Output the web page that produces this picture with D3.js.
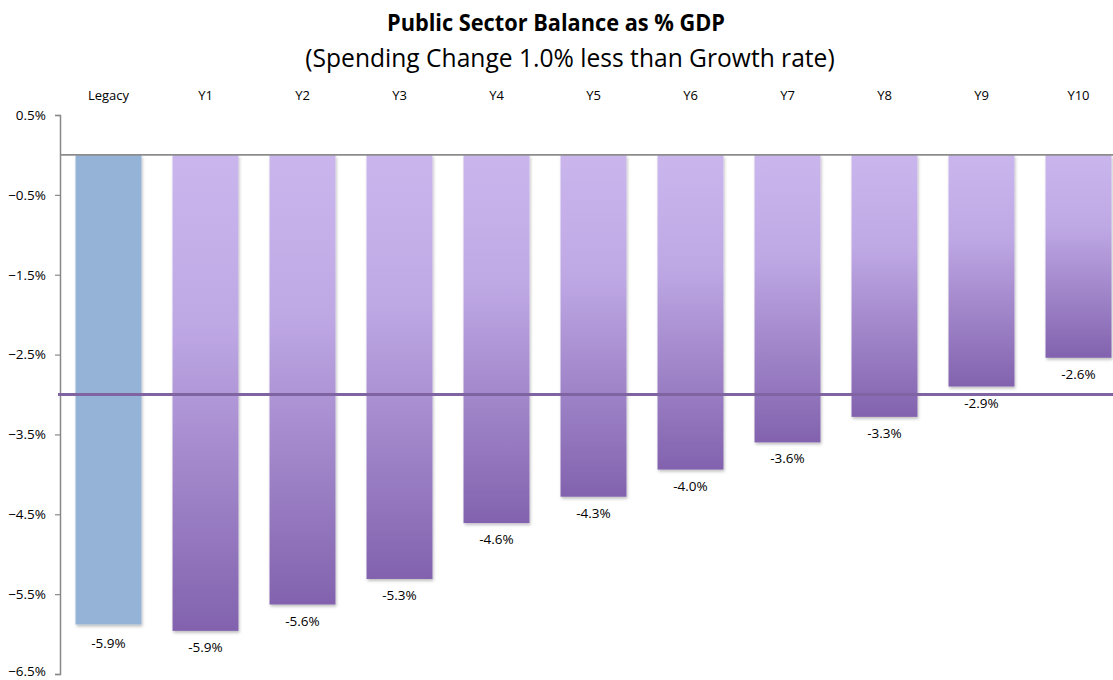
<!DOCTYPE html>
<html><head><meta charset="utf-8">
<script src="https://cdn.jsdelivr.net/npm/d3@7"></script>
<style>
html,body{margin:0;padding:0;background:#fff;}
svg{display:block;font-family:"Open Sans","Lato",sans-serif;}
</style></head>
<body>
<svg id="chart" width="1113" height="680"></svg>
<script>
const categories = ["Legacy","Y1","Y2","Y3","Y4","Y5","Y6","Y7","Y8","Y9","Y10"];
const values = [-5.88,-5.96,-5.63,-5.31,-4.61,-4.28,-3.94,-3.60,-3.28,-2.90,-2.54];
const valueLabels = ["-5.9%","-5.9%","-5.6%","-5.3%","-4.6%","-4.3%","-4.0%","-3.6%","-3.3%","-2.9%","-2.6%"];
const yTicks = [0.5,-0.5,-1.5,-2.5,-3.5,-4.5,-5.5,-6.5];
const targetLine = -3.0;
const title = "Public Sector Balance as % GDP";
const subtitle = "(Spending Change 1.0% less than Growth rate)";

(function(){
const svg = d3.select("#chart");
const mLeft = 60, mTop = 115, mBottom = 674;
const x = d3.scaleBand().domain(categories).range([mLeft, mLeft + 11*97]).paddingInner(0.32).paddingOuter(0.16);
const y = d3.scaleLinear().domain([0.5,-6.5]).range([mTop,mBottom]);

const defs = svg.append("defs");
const g = defs.append("linearGradient").attr("id","purp").attr("x1",0).attr("y1",0).attr("x2",0).attr("y2",1);
g.append("stop").attr("offset","0%").attr("stop-color","#CAB6ED");
g.append("stop").attr("offset","35%").attr("stop-color","#BFA9E5");
g.append("stop").attr("offset","100%").attr("stop-color","#8262AE");
const f = defs.append("filter").attr("id","sh").attr("x","-10%").attr("y","-5%").attr("width","130%").attr("height","115%");
f.append("feDropShadow").attr("dx",1).attr("dy",2).attr("stdDeviation",1.5).attr("flood-color","#000").attr("flood-opacity",0.25);

svg.append("text").attr("x",556).attr("y",31).attr("text-anchor","middle")
  .attr("font-size",24).attr("font-weight","bold").attr("fill","#000")
  .attr("textLength",338).attr("lengthAdjust","spacingAndGlyphs").text(title);
svg.append("text").attr("x",570).attr("y",67).attr("text-anchor","middle")
  .attr("font-size",24.6).attr("fill","#000").text(subtitle);

const yAxis = d3.axisLeft(y).tickValues(yTicks).tickSize(5).tickFormat(d => d3.format(".1f")(d) + "%");
const ya = svg.append("g").attr("transform",`translate(${mLeft},0)`).call(yAxis);
ya.select(".domain").attr("stroke","#888").attr("stroke-width",1.5);
ya.selectAll(".tick line").attr("stroke","#888").attr("stroke-width",1.2);
ya.selectAll(".tick text").attr("font-size",13.5).attr("fill","#000").attr("x",-14)
  .attr("dy", d => d === -6.5 ? "0.1em" : "0.32em")
  .attr("font-family","Open Sans, sans-serif");

svg.append("g").selectAll("rect").data(categories).join("rect")
  .attr("x", d => x(d)).attr("width", x.bandwidth())
  .attr("y", y(0)).attr("height", (d,i) => y(values[i]) - y(0))
  .attr("fill", (d,i) => i === 0 ? "#95B3D7" : "url(#purp)")
  .attr("filter","url(#sh)");

svg.append("line").attr("x1",mLeft).attr("x2",1113).attr("y1",y(0)).attr("y2",y(0))
  .attr("stroke","#8c8c8c").attr("stroke-width",1.8);

svg.append("line").attr("x1",mLeft-2).attr("x2",1113).attr("y1",y(targetLine)).attr("y2",y(targetLine))
  .attr("stroke","#8064A2").attr("stroke-width",3);

svg.append("g").selectAll("text").data(categories).join("text")
  .attr("x", d => x(d) + x.bandwidth()/2).attr("y",100).attr("text-anchor","middle")
  .attr("font-size",13).attr("fill","#000").text(d => d);

svg.append("g").selectAll("text").data(categories).join("text")
  .attr("x", d => x(d) + x.bandwidth()/2).attr("y",(d,i) => y(values[i]) + (i === 0 ? 24 : 21)).attr("text-anchor","middle")
  .attr("font-size",13.5).attr("fill","#000").text((d,i) => valueLabels[i]);
})();
</script>
</body></html>
